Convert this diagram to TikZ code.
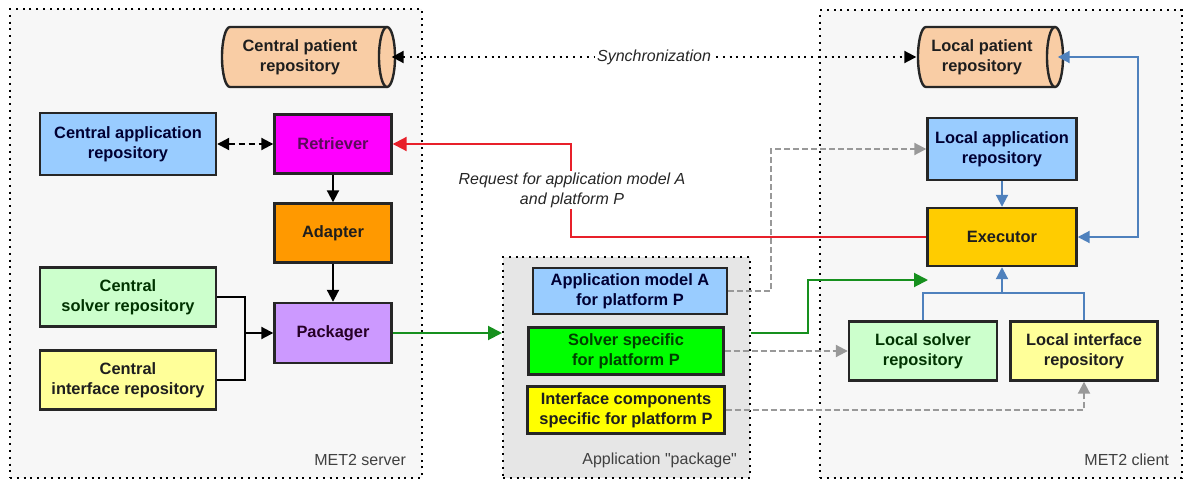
\documentclass[tikz,border=0pt]{standalone}
\usepackage{fontspec}
\setmainfont{Liberation Sans}[Ligatures=TeXOff]
\usetikzlibrary{arrows.meta}
\definecolor{frameBg}{HTML}{F7F7F7}
\definecolor{pkgBg}{HTML}{E6E6E6}
\definecolor{peach}{HTML}{F9CDA5}
\definecolor{ltblue}{HTML}{99CCFF}
\definecolor{magentaF}{HTML}{FF00FF}
\definecolor{orangeF}{HTML}{FF9900}
\definecolor{lavender}{HTML}{CC99FF}
\definecolor{ltgreen}{HTML}{CCFFCC}
\definecolor{ltyellow}{HTML}{FFFF99}
\definecolor{brgreen}{HTML}{00FF00}
\definecolor{bryellow}{HTML}{FFFF00}
\definecolor{gold}{HTML}{FFCC00}
\definecolor{lineBlue}{HTML}{4F81BD}
\definecolor{lineGreen}{HTML}{16901E}
\definecolor{lineRed}{HTML}{E8202A}
\definecolor{lineGray}{HTML}{999999}
\definecolor{txtDark}{HTML}{1E1E1E}
\definecolor{txtPurple}{HTML}{5A0A5A}
\tikzset{
  frame/.style={draw=black, line width=1pt, dash pattern=on 1pt off 2.4pt, inner sep=0pt},
  box/.style={draw=black!85, line width=1.2pt, inner sep=0pt, align=center,
    font=\bfseries\fontsize{8.2}{10}\selectfont, text=txtDark},
  cyltext/.style={box, draw=none},
  cylline/.style={draw=black!85, line width=1.2pt, fill=peach},
  conn/.style={line width=1pt, -{Triangle[length=6pt,width=6pt]}},
  dconn/.style={line width=1pt, {Triangle[length=6pt,width=6pt]}-{Triangle[length=6pt,width=6pt]}},
  grayd/.style={conn, draw=lineGray, dash pattern=on 3pt off 1.5pt},
  lbl/.style={font=\itshape\fontsize{8}{10}\selectfont, text=black!85, align=center},
  flbl/.style={font=\fontsize{8}{10}\selectfont, text=black!75, anchor=east},
}
\begin{document}
\begin{tikzpicture}[x=0.5pt,y=-0.5pt]
\useasboundingbox[fill=white] (0,0) rectangle (1184,482);
% frames
\node[frame, fill=frameBg, minimum width=206pt, minimum height=234.5pt] (server) at (216,243.5) {};
\node[frame, fill=frameBg, minimum width=181pt, minimum height=234pt] (client) at (1001,244) {};
\node[frame, fill=pkgBg, minimum width=123.5pt, minimum height=110.5pt] (pkg) at (626.5,367.5) {};
\node[flbl] (serverlbl) at (413,460) {MET2 server};
\node[flbl] (pkglbl) at (744,460) {Application "package"};
\node[flbl] (clientlbl) at (1176,460) {MET2 client};
% cylinders (drawn directly)
\draw[cylline] (230,27) -- (387,27) arc[start angle=90, end angle=-90, x radius=4pt, y radius=15pt]
  -- (230,87) arc[start angle=270, end angle=90, x radius=4pt, y radius=15pt] -- cycle;
\draw[cylline, fill=none] (387,27) arc[start angle=90, end angle=270, x radius=4pt, y radius=15pt];
\draw[cylline] (926,27) -- (1055,27) arc[start angle=90, end angle=-90, x radius=4pt, y radius=15pt]
  -- (926,87) arc[start angle=270, end angle=90, x radius=4pt, y radius=15pt] -- cycle;
\draw[cylline, fill=none] (1055,27) arc[start angle=90, end angle=270, x radius=4pt, y radius=15pt];
% server nodes
\node[cyltext, minimum width=86.5pt, minimum height=30pt] (cpr) at (308,57) {\hspace*{-8pt}Central patient\\\hspace*{-8pt}repository};
\node[box, fill=ltblue, minimum width=88pt, minimum height=31pt, text=black!80!blue] (car) at (128,144) {Central application\\repository};
\node[box, fill=magentaF, minimum width=58.5pt, minimum height=29.5pt, text=txtPurple] (ret) at (333,144) {Retriever};
\node[box, fill=orangeF, minimum width=58.5pt, minimum height=29.5pt] (ada) at (333,233) {Adapter};
\node[box, fill=lavender, minimum width=58.5pt, minimum height=30pt, text=black!70!violet] (pack) at (333,333) {Packager};
\node[box, fill=ltgreen, minimum width=88pt, minimum height=29.5pt, text=black!80!green] (csr) at (128,297) {Central\\solver repository};
\node[box, fill=ltyellow, minimum width=88pt, minimum height=29.5pt] (cir) at (128,380) {Central\\interface repository};
% package nodes
\node[box, fill=ltblue, minimum width=97pt, minimum height=23pt, text=black!80!blue] (amA) at (630,291) {Application model A\\for platform P};
\node[box, fill=brgreen, minimum width=97.5pt, minimum height=23.5pt, text=black!75!green] (ss) at (626,351) {Solver specific\\for platform P};
\node[box, fill=bryellow, minimum width=98.5pt, minimum height=23.5pt] (ic) at (626,410) {Interface components\\specific for platform P};
% client nodes
\node[cyltext, minimum width=72.5pt, minimum height=30pt] (lpr) at (990,57) {\hspace*{-8pt}Local patient\\\hspace*{-8pt}repository};
\node[box, fill=ltblue, minimum width=74.5pt, minimum height=31pt, text=black!80!blue] (lar) at (1002,149) {Local application\\repository};
\node[box, fill=gold, minimum width=74.5pt, minimum height=29pt] (exe) at (1002,237) {Executor};
\node[box, fill=ltgreen, minimum width=74pt, minimum height=29.5pt, text=black!80!green] (lsr) at (923,351) {Local solver\\repository};
\node[box, fill=ltyellow, minimum width=73.5pt, minimum height=29.5pt] (lir) at (1084,351) {Local interface\\repository};
% synchronization
\draw[dconn, dash pattern=on 1pt off 2.4pt] ([xshift=-2pt]cpr.east) -- (lpr.west)
  node[midway, lbl, fill=white, inner sep=1pt] (synclbl) {Synchronization};
% server connectors
\draw[dconn, dash pattern=on 3pt off 2pt] (car.east) -- (ret.west);
\draw[conn] (ret.south) -- (ada.north);
\draw[conn] (ada.south) -- (pack.north);
\coordinate (mj) at (245,333);
\draw[line width=1pt] (csr.east) -| (mj);
\draw[line width=1pt] (cir.east) -| (mj);
\draw[conn] (mj) -- (pack.west);
% green
\draw[conn, draw=lineGreen, -{Triangle[length=7pt,width=7pt]}, lineGreen] (pack.east) -- (pkg.west |- pack.east);
\coordinate (gtip) at (928,280);
\draw[conn, draw=lineGreen, lineGreen, -{Triangle[length=7pt,width=7pt]}] (pkg.east |- pack.east) -- (808,333) |- (gtip);
% red request
\draw[conn, draw=lineRed, lineRed, -{Triangle[length=7pt,width=7pt]}] (exe.west) -- ++(-355,0) |- (ret.east);
\node[lbl, fill=white, inner sep=1pt] (reqlbl) at (572,190) {Request for application model A\\and platform P};
% gray dashed
\draw[grayd, lineGray] (amA.east) -- ++(43,0) |- (lar.west);
\draw[grayd, lineGray] (ss.east) -- (lsr.west);
\draw[grayd, lineGray] (ic.east) -| (lir.south);
% blue
\draw[conn, draw=lineBlue, lineBlue] (lar.south) -- (exe.north);
\coordinate (bj) at (1002,293);
\draw[line width=1pt, draw=lineBlue] (lsr.north) |- (bj) -| (lir.north);
\draw[conn, draw=lineBlue, lineBlue] (bj) -- (exe.south);
\draw[dconn, draw=lineBlue, lineBlue] (exe.east) -- ++(60,0) |- ([xshift=-3pt]lpr.east);
\end{tikzpicture}
\end{document}
